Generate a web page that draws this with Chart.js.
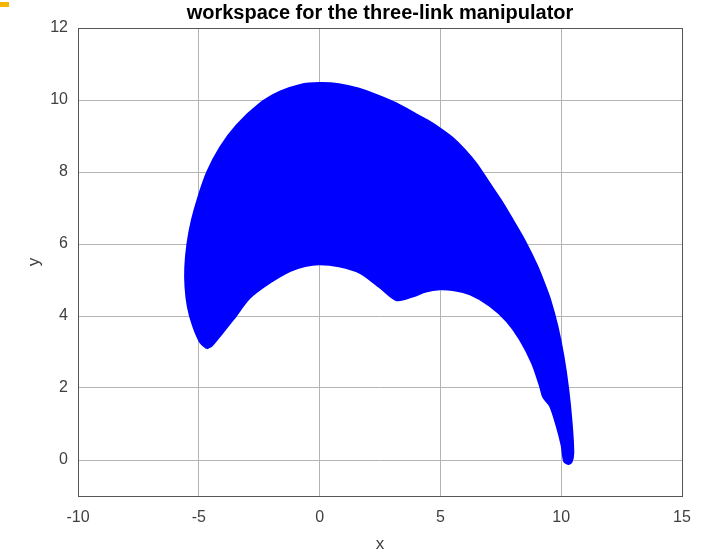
<!DOCTYPE html>
<html>
<head>
<meta charset="utf-8">
<script src="https://cdn.jsdelivr.net/npm/chart.js@4.4.1/dist/chart.umd.min.js"></script>
<style>
  html, body { margin: 0; padding: 0; background: #fff; }
  #wrap { width: 707px; height: 558px; }
</style>
</head>
<body>
<div id="wrap"><canvas id="myChart"></canvas></div>
<script>
// boundary of the reachable workspace, traced clockwise from the left tip
const boundaryX = [-4.67, -4.95, -5.25, -5.45, -5.55, -5.56, -5.47, -5.29, -5.02, -4.65, -4.12, -3.43, -2.47, -1.64, -0.80, 0.00,
  0.80, 1.60, 2.40, 3.20, 4.00, 4.50, 5.00, 5.50, 6.00, 6.50, 7.00, 7.50, 8.00, 8.50, 9.00, 9.30, 9.54, 9.84, 10.09, 10.29, 10.43, 10.50,
  10.43, 10.29, 10.12, 10.02, 9.81, 9.54, 9.26, 9.12, 8.78, 8.29, 7.74, 7.05, 6.23, 5.50, 4.98, 4.40, 3.88, 3.19,
  2.50, 1.67, 0.80, 0.00, -0.60, -1.23, -2.05, -2.88, -3.57, -4.12, -4.47, -4.67];
const boundaryY = [3.10, 3.28, 3.75, 4.25, 4.80, 5.35, 6.00, 6.65, 7.30, 8.00, 8.68, 9.30, 9.90, 10.23, 10.42, 10.47,
  10.44, 10.32, 10.13, 9.90, 9.60, 9.42, 9.20, 8.95, 8.62, 8.22, 7.72, 7.22, 6.66, 6.08, 5.40, 4.90, 4.46, 3.72, 2.89, 1.97, 1.04, 0.21,
  -0.05, -0.11, -0.03, 0.40, 0.95, 1.50, 1.74, 2.06, 2.71, 3.35, 3.86, 4.28, 4.60, 4.72, 4.74, 4.68, 4.55, 4.44,
  4.79, 5.20, 5.38, 5.44, 5.39, 5.25, 4.93, 4.51, 3.91, 3.45, 3.17, 3.10];
const xTicks = [-10, -5, 0, 5, 10, 15];
const yTicks = [0, 2, 4, 6, 8, 10, 12];

const txt = '#404040';
const boxPlugin = {
  id: 'box',
  afterDraw(chart) {
    const {ctx, chartArea: a} = chart;
    ctx.save();
    ctx.strokeStyle = '#555';
    ctx.lineWidth = 1;
    ctx.strokeRect(a.left + 0.5, a.top + 0.5, a.right - a.left, a.bottom - a.top);
    ctx.fillStyle = '#f7b500';
    ctx.fillRect(0, 2, 9, 5);
    ctx.restore();
  }
};

const ctx = document.getElementById('myChart').getContext('2d');
const myChart = new Chart(ctx, {
  type: 'scatter',
  data: {
    datasets: [{
      data: boundaryX.map((x, i) => ({x: x, y: boundaryY[i]})),
      showLine: true,
      fill: 'shape',
      backgroundColor: '#0000ff',
      borderColor: '#0000ff',
      borderWidth: 2,
      borderJoinStyle: 'round',
      pointRadius: 0,
      tension: 0.3
    }]
  },
  options: {
    responsive: true,
    maintainAspectRatio: false,
    animation: false,
    layout: { padding: { left: 0, right: 25, top: 0, bottom: 0 } },
    plugins: {
      legend: { display: false },
      tooltip: { enabled: false },
      title: {
        display: true,
        text: 'workspace for the three-link manipulator',
        fullSize: false,
        color: '#000',
        font: { family: 'Liberation Sans', size: 20, weight: 'bold' },
        padding: { top: 1, bottom: 3 }
      }
    },
    scales: {
      x: {
        type: 'linear',
        min: -10, max: 15,
        afterBuildTicks: s => { s.ticks = xTicks.map(v => ({value: v})); },
        afterFit: s => { s.height = 62; },
        grid: { color: '#b4b4b4', drawTicks: false },
        border: { color: '#555' },
        ticks: { color: txt, padding: 12, font: { family: 'Liberation Sans', size: 16 } },
        title: { display: true, text: 'x', color: txt, padding: { top: 0, bottom: 3 },
          font: { family: 'Liberation Sans', size: 17 } }
      },
      y: {
        type: 'linear',
        min: -1, max: 12,
        afterBuildTicks: s => { s.ticks = yTicks.map(v => ({value: v})); },
        afterFit: s => { s.width = 78; },
        grid: { color: '#b4b4b4', drawTicks: false },
        border: { color: '#555' },
        ticks: { color: txt, padding: 10, font: { family: 'Liberation Sans', size: 16 } },
        title: { display: true, text: 'y', color: txt, padding: { top: 24, bottom: 0 },
          font: { family: 'Liberation Sans', size: 17 } }
      }
    }
  },
  plugins: [boxPlugin]
});
</script>
</body>
</html>
